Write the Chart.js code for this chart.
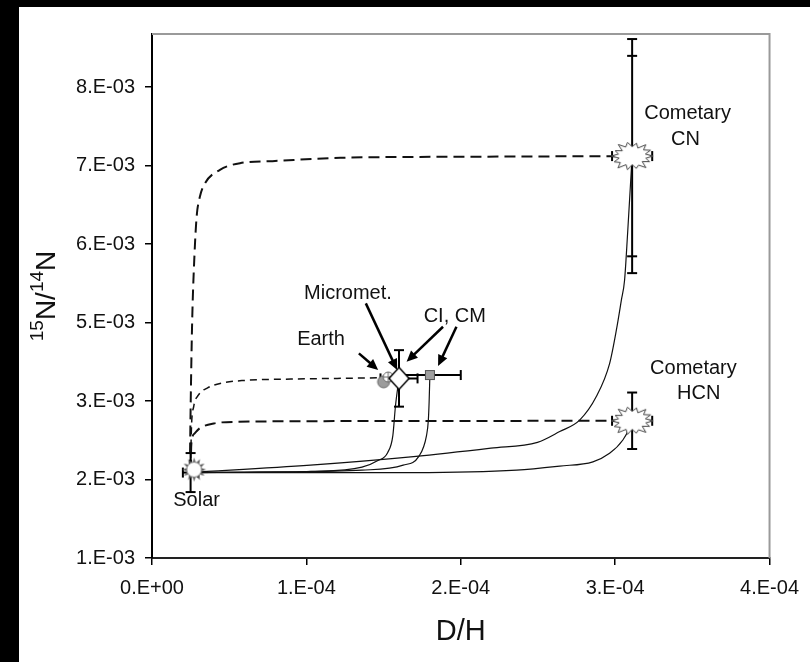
<!DOCTYPE html>
<html>
<head>
<meta charset="utf-8">
<script src="https://cdn.jsdelivr.net/npm/chart.js@4.4.1/dist/chart.umd.min.js"></script>
<style>
  html, body { margin: 0; padding: 0; background: #000; }
  .wrap { position: absolute; left: 19px; top: 7px; width: 791px; height: 655px; background: #fff; }
  canvas { display: block; }
</style>
</head>
<body>
<div class="wrap"><canvas id="chart" width="791" height="655"></canvas></div>
<script>
// axis ticks
const xTicks = [0, 1e-4, 2e-4, 3e-4, 4e-4];
const xTickLabels = ['0.E+00', '1.E-04', '2.E-04', '3.E-04', '4.E-04'];
const yTicks = [0.001, 0.0021667, 0.0033333, 0.0045, 0.0056667, 0.0068333, 0.008];
const yTickLabels = ['1.E-03', '2.E-03', '3.E-03', '5.E-03', '6.E-03', '7.E-03', '8.E-03'];

// reservoirs: D/H and 15N/14N with errors
const sampleNames = ['Solar', 'Earth', 'Micromet.', 'CI, CM', 'Cometary CN', 'Cometary HCN'];
const sampleDH = [2.5e-5, 1.53e-4, 1.6e-4, 1.8e-4, 3.11e-4, 3.11e-4];
const sampleN15 = [2.27e-3, 3.69e-3, 3.67e-3, 3.72e-3, 6.975e-3, 3.04e-3];
const errDH = [5e-6, 0, 1.2e-5, 2e-5, 1.3e-5, 1.3e-5];
const errN15 = [2.9e-4, 0, 4.2e-4, 0, 1.74e-3, 4.2e-4];
const errN15Inner = [0, 0, 0, 0, 1.49e-3, 0];
const earthAltDH = [1.5e-4];
const earthAltN15 = [3.62e-3];

// mixing curves, solar -> reservoir (solid)
const mixMicromet = [[2.5e-5, 2.27e-3], [6e-5, 2.275e-3], [1.03e-4, 2.287e-3], [1.36e-4, 2.35e-3], [1.46e-4, 2.445e-3], [1.527e-4, 2.57e-3], [1.56e-4, 2.82e-3], [1.577e-4, 3.26e-3], [1.6e-4, 3.67e-3]];
const mixChondrite = [[2.5e-5, 2.27e-3], [8e-5, 2.28e-3], [1.36e-4, 2.306e-3], [1.627e-4, 2.38e-3], [1.727e-4, 2.507e-3], [1.778e-4, 2.82e-3], [1.79e-4, 3.05e-3], [1.795e-4, 3.32e-3], [1.8e-4, 3.72e-3]];
const mixCN = [[2.5e-5, 2.27e-3], [1.026e-4, 2.38e-3], [1.694e-4, 2.507e-3], [2.195e-4, 2.633e-3], [2.497e-4, 2.72e-3], [2.641e-4, 2.88e-3], [2.77e-4, 3.05e-3], [2.878e-4, 3.4e-3], [2.964e-4, 3.89e-3], [3.008e-4, 4.39e-3], [3.04e-4, 4.83e-3], [3.061e-4, 5.13e-3], [3.081e-4, 5.84e-3], [3.11e-4, 6.975e-3]];
const mixHCN = [[2.5e-5, 2.27e-3], [1.694e-4, 2.27e-3], [2.362e-4, 2.306e-3], [2.641e-4, 2.367e-3], [2.856e-4, 2.43e-3], [2.964e-4, 2.556e-3], [3.05e-4, 2.754e-3], [3.094e-4, 2.94e-3], [3.11e-4, 3.04e-3]];

// dashed mixing curves
const dashCN = [[2.45e-5, 2.3e-3], [2.5e-5, 3.2e-3], [2.6e-5, 4.5e-3], [2.75e-5, 5.5e-3], [2.89e-5, 6.07e-3], [3.1e-5, 6.37e-3], [3.43e-5, 6.57e-3], [4.4e-5, 6.77e-3], [5.7e-5, 6.87e-3], [7.8e-5, 6.9e-3], [1.22e-4, 6.95e-3], [2.0e-4, 6.965e-3], [3.11e-4, 6.975e-3]];
const dashEarth = [[2.5e-5, 2.3e-3], [2.55e-5, 2.9e-3], [2.7e-5, 3.25e-3], [3.0e-5, 3.42e-3], [3.6e-5, 3.53e-3], [4.5e-5, 3.6e-3], [6e-5, 3.64e-3], [9e-5, 3.66e-3], [1.2e-4, 3.67e-3], [1.51e-4, 3.68e-3]];
const dashHCN = [[2.5e-5, 2.3e-3], [2.55e-5, 2.7e-3], [2.75e-5, 2.85e-3], [3.1e-5, 2.93e-3], [4e-5, 3.0e-3], [5.6e-5, 3.025e-3], [1.2e-4, 3.035e-3], [3.11e-4, 3.04e-3]];

const FONT = '"Liberation Sans", Arial, sans-serif';

// text labels and arrows, in data units
const notes = [
  { text: 'Solar', x: 2.89e-5, y: 1.77e-3 },
  { text: 'Earth', x: 1.095e-4, y: 4.173e-3 },
  { text: 'Micromet.', x: 1.269e-4, y: 4.851e-3 },
  { text: 'CI, CM', x: 1.961e-4, y: 4.504e-3 },
  { text: 'Cometary', x: 3.469e-4, y: 7.526e-3 },
  { text: 'CN', x: 3.456e-4, y: 7.145e-3 },
  { text: 'Cometary', x: 3.507e-4, y: 3.736e-3 },
  { text: 'HCN', x: 3.541e-4, y: 3.365e-3 }
];
const arrows = [
  [1.34e-4, 4.042e-3, 1.465e-4, 3.794e-3],
  [1.385e-4, 4.785e-3, 1.588e-4, 3.794e-3],
  [1.885e-4, 4.438e-3, 1.649e-4, 3.917e-3],
  [1.972e-4, 4.438e-3, 1.853e-4, 3.853e-3]
];

function makeCanvas(w, h, draw) {
  const c = document.createElement('canvas');
  c.width = w; c.height = h;
  draw(c.getContext('2d'), w / 2, h / 2);
  return c;
}

const sunImg = makeCanvas(34, 34, (g, cx, cy) => {
  cx += 3.5; cy -= 3;
  g.fillStyle = '#555';
  for (let k = 0; k < 12; k++) {
    const a = k * Math.PI / 6;
    g.beginPath();
    g.moveTo(cx + Math.cos(a - 0.24) * 7, cy + Math.sin(a - 0.24) * 7);
    g.lineTo(cx + Math.cos(a) * 12, cy + Math.sin(a) * 12);
    g.lineTo(cx + Math.cos(a + 0.24) * 7, cy + Math.sin(a + 0.24) * 7);
    g.closePath();
    g.fill();
  }
  g.beginPath();
  g.arc(cx, cy, 7.5, 0, Math.PI * 2);
  g.fillStyle = '#fff'; g.fill();
  g.strokeStyle = '#777'; g.lineWidth = 1; g.stroke();
});

const earthImg = makeCanvas(14, 14, (g, cx, cy) => {
  g.beginPath();
  g.arc(cx, cy, 5, 0, Math.PI * 2);
  g.fillStyle = '#fff'; g.fill();
  g.strokeStyle = '#666'; g.lineWidth = 1; g.stroke();
  g.beginPath();
  g.moveTo(cx - 5, cy); g.lineTo(cx + 5, cy);
  g.moveTo(cx, cy - 5); g.lineTo(cx, cy + 5);
  g.stroke();
});

const earthAltImg = makeCanvas(16, 16, (g, cx, cy) => {
  g.beginPath();
  g.arc(cx, cy, 6, 0, Math.PI * 2);
  g.fillStyle = '#9c9c9c'; g.fill();
  g.strokeStyle = '#666'; g.lineWidth = 1; g.stroke();
});

const diamondImg = makeCanvas(26, 26, (g, cx, cy) => {
  g.beginPath();
  g.moveTo(cx, cy - 11); g.lineTo(cx + 10, cy); g.lineTo(cx, cy + 11); g.lineTo(cx - 10, cy);
  g.closePath();
  g.fillStyle = '#fff'; g.fill();
  g.strokeStyle = '#000'; g.lineWidth = 1.5; g.stroke();
});

const squareImg = makeCanvas(14, 14, (g, cx, cy) => {
  g.fillStyle = '#a0a0a0';
  g.fillRect(cx - 4.5, cy - 4.5, 9, 9);
  g.strokeStyle = '#555'; g.lineWidth = 1;
  g.strokeRect(cx - 4.5, cy - 4.5, 9, 9);
});

const starScale = [1, 0.92, 1.05, 0.9, 1, 1.08, 0.95, 1, 0.9, 1.06, 1, 0.94, 1.04, 0.97];
const starImg = makeCanvas(48, 36, (g, cx, cy) => {
  const n = starScale.length;
  g.beginPath();
  for (let k = 0; k < n * 2; k++) {
    const a = k * Math.PI / n;
    const s = starScale[k >> 1];
    const rx = (k % 2 ? 14 : 21) * s, ry = (k % 2 ? 9.5 : 14) * s;
    const px = cx + Math.cos(a) * rx, py = cy + Math.sin(a) * ry;
    if (k === 0) g.moveTo(px, py); else g.lineTo(px, py);
  }
  g.closePath();
  g.fillStyle = '#fff'; g.fill();
  g.strokeStyle = '#444'; g.lineWidth = 1; g.stroke();
});

const toXY = arr => arr.map(p => ({ x: p[0], y: p[1] }));

function curve(points, width, dash) {
  return {
    data: toXY(points), showLine: true, pointRadius: 0,
    borderColor: '#111', borderWidth: width, borderDash: dash,
    cubicInterpolationMode: 'monotone', fill: false
  };
}

function drawCap(ctx, x1, y1, x2, y2) {
  ctx.beginPath(); ctx.moveTo(x1, y1); ctx.lineTo(x2, y2); ctx.stroke();
}

const errorBars = {
  id: 'errorBars',
  beforeDatasetDraw(chart, args) {
    if (args.index !== 1) return;
    const { ctx, scales: { x, y } } = chart;
    ctx.save();
    ctx.strokeStyle = '#000';
    ctx.lineWidth = 2;
    sampleDH.forEach((dh, i) => {
      const cx = x.getPixelForValue(dh), cy = y.getPixelForValue(sampleN15[i]);
      if (errN15[i]) {
        const t = y.getPixelForValue(sampleN15[i] + errN15[i]);
        const b = y.getPixelForValue(sampleN15[i] - errN15[i]);
        drawCap(ctx, cx, t, cx, b);
        drawCap(ctx, cx - 5, t, cx + 5, t);
        drawCap(ctx, cx - 5, b, cx + 5, b);
      }
      if (errN15Inner[i]) {
        const t = y.getPixelForValue(sampleN15[i] + errN15Inner[i]);
        const b = y.getPixelForValue(sampleN15[i] - errN15Inner[i]);
        drawCap(ctx, cx - 5, t, cx + 5, t);
        drawCap(ctx, cx - 5, b, cx + 5, b);
      }
      if (errDH[i]) {
        const l = x.getPixelForValue(dh - errDH[i]);
        const r = x.getPixelForValue(dh + errDH[i]);
        drawCap(ctx, l, cy, r, cy);
        drawCap(ctx, l, cy - 5, l, cy + 5);
        drawCap(ctx, r, cy - 5, r, cy + 5);
      }
    });
    ctx.restore();
  }
};

const decorations = {
  id: 'decorations',
  beforeDatasetsDraw(chart) {
    const { ctx, chartArea: a } = chart;
    ctx.save();
    ctx.strokeStyle = '#9a9a9a';
    ctx.lineWidth = 2;
    ctx.beginPath();
    ctx.moveTo(a.left, a.top); ctx.lineTo(a.right, a.top); ctx.lineTo(a.right, a.bottom);
    ctx.stroke();
    ctx.restore();
  },
  afterDatasetsDraw(chart) {
    const { ctx, scales: { x, y } } = chart;
    ctx.save();
    // arrows
    ctx.strokeStyle = '#000';
    ctx.fillStyle = '#000';
    ctx.lineWidth = 2.5;
    arrows.forEach(([x1, y1, x2, y2]) => {
      const p1 = [x.getPixelForValue(x1), y.getPixelForValue(y1)];
      const p2 = [x.getPixelForValue(x2), y.getPixelForValue(y2)];
      const ang = Math.atan2(p2[1] - p1[1], p2[0] - p1[0]);
      const head = 11;
      ctx.beginPath();
      ctx.moveTo(p1[0], p1[1]);
      ctx.lineTo(p2[0] - Math.cos(ang) * head * 0.8, p2[1] - Math.sin(ang) * head * 0.8);
      ctx.stroke();
      ctx.beginPath();
      ctx.moveTo(p2[0], p2[1]);
      ctx.lineTo(p2[0] - Math.cos(ang) * head + Math.sin(ang) * 5, p2[1] - Math.sin(ang) * head - Math.cos(ang) * 5);
      ctx.lineTo(p2[0] - Math.cos(ang) * head - Math.sin(ang) * 5, p2[1] - Math.sin(ang) * head + Math.cos(ang) * 5);
      ctx.closePath();
      ctx.fill();
    });
    // labels
    ctx.fillStyle = '#111';
    ctx.font = '20px ' + FONT;
    ctx.textAlign = 'center';
    ctx.textBaseline = 'alphabetic';
    notes.forEach(n => ctx.fillText(n.text, x.getPixelForValue(n.x), y.getPixelForValue(n.y)));
    ctx.restore();
  },
  afterDraw(chart) {
    const { ctx, chartArea: a } = chart;
    ctx.save();
    ctx.fillStyle = '#111';
    // x title
    ctx.font = '29px ' + FONT;
    ctx.textAlign = 'center';
    ctx.textBaseline = 'alphabetic';
    ctx.fillText('D/H', (a.left + a.right) / 2, 633);
    // y title with superscripts
    const parts = [['15', 19, -12], ['N/', 28, 0], ['14', 19, -12], ['N', 28, 0]];
    let total = 0;
    parts.forEach(p => { ctx.font = p[1] + 'px ' + FONT; total += ctx.measureText(p[0]).width; });
    ctx.translate(36, (a.top + a.bottom) / 2);
    ctx.rotate(-Math.PI / 2);
    ctx.textAlign = 'left';
    let cx = -total / 2;
    parts.forEach(p => {
      ctx.font = p[1] + 'px ' + FONT;
      ctx.fillText(p[0], cx, p[2]);
      cx += ctx.measureText(p[0]).width;
    });
    ctx.restore();
  }
};

new Chart(document.getElementById('chart'), {
  type: 'scatter',
  data: {
    datasets: [
      {
        data: sampleDH.map((v, i) => ({ x: v, y: sampleN15[i] })),
        pointStyle: [sunImg, earthImg, diamondImg, squareImg, starImg, starImg],
        pointRadius: 10
      },
      {
        data: earthAltDH.map((v, i) => ({ x: v, y: earthAltN15[i] })),
        pointStyle: earthAltImg,
        pointRadius: 8
      },
      curve(mixMicromet, 1.2, []),
      curve(mixChondrite, 1.2, []),
      curve(mixCN, 1.2, []),
      curve(mixHCN, 1.2, []),
      curve(dashEarth, 1.5, [7, 5]),
      curve(dashHCN, 2, [11, 6]),
      curve(dashCN, 2, [11, 6])
    ]
  },
  options: {
    responsive: false,
    animation: false,
    events: [],
    layout: { padding: { top: 27, right: 40, left: 0, bottom: 0 } },
    plugins: { legend: { display: false }, tooltip: { enabled: false } },
    scales: {
      x: {
        type: 'linear', min: 0, max: 4e-4,
        afterBuildTicks: s => { s.ticks = xTicks.map(v => ({ value: v })); },
        afterFit: s => { s.height = 104; },
        ticks: {
          autoSkip: false, maxRotation: 0, padding: 11, color: '#111',
          font: { family: FONT, size: 20 },
          callback: (v, i) => xTickLabels[i]
        },
        grid: { drawOnChartArea: false, drawTicks: true, tickLength: 7, color: '#000', lineWidth: 1.5 },
        border: { display: true, color: '#222', width: 2 }
      },
      y: {
        type: 'linear', min: 0.001, max: 0.00879,
        afterBuildTicks: s => { s.ticks = yTicks.map(v => ({ value: v })); },
        afterFit: s => { s.width = 133; },
        ticks: {
          autoSkip: false, padding: 10, color: '#111',
          font: { family: FONT, size: 20 },
          callback: (v, i) => yTickLabels[i]
        },
        grid: { drawOnChartArea: false, drawTicks: true, tickLength: 7, color: '#000', lineWidth: 1.5 },
        border: { display: true, color: '#000', width: 2 }
      }
    }
  },
  plugins: [errorBars, decorations]
});
</script>
</body>
</html>
